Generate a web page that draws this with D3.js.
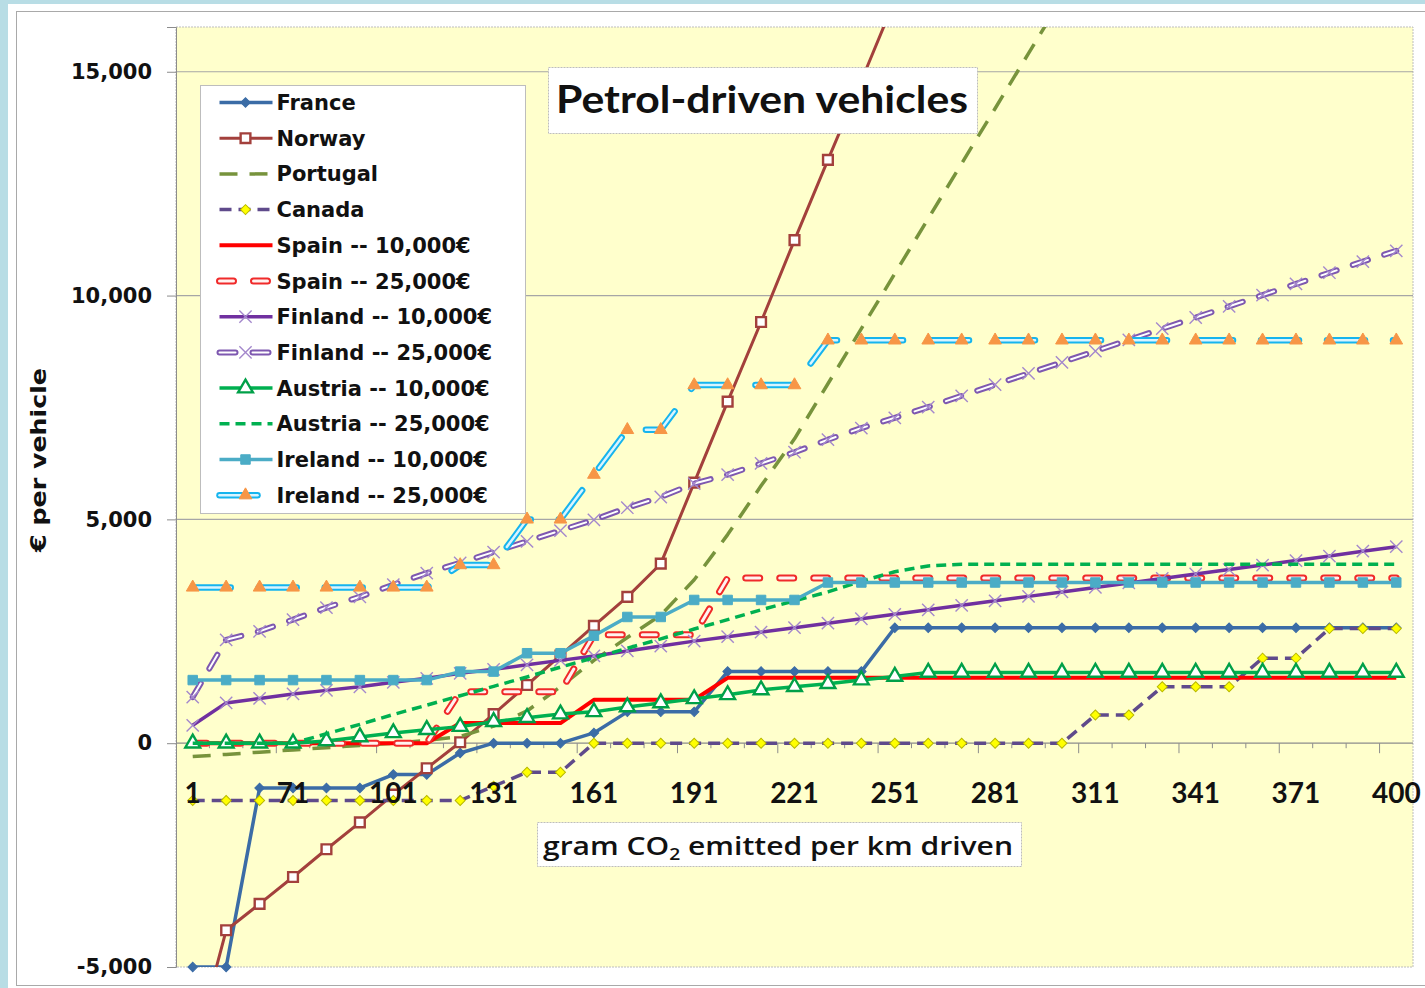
<!DOCTYPE html>
<html>
<head>
<meta charset="utf-8">
<script src="https://cdn.jsdelivr.net/npm/d3@7"></script>
<style>
  body { margin: 0; background: #fff; }
  svg { display: block; }
</style>
</head>
<body>
<div id="chart"></div>
<script>
// gram CO2 per km (categories)
const categories = ["1", "51", "61", "71", "81", "91", "101", "111", "121", "131", "141", "151", "161",
  "171", "181", "191", "201", "211", "221", "231", "241", "251", "261", "271", "281", "291", "301",
  "311", "321", "331", "341", "351", "361", "371", "381", "391", "400"];

// € per vehicle, one value per category
const france = [-5000, -5000, -1000, -1000, -1000, -1000, -700, -700, -220, 0, 0, 0, 230, 700, 700, 700,
  1600, 1600, 1600, 1600, 1600, 2580, 2580, 2580, 2580, 2580, 2580, 2580, 2580, 2580, 2580, 2580, 2580,
  2580, 2580, 2580, 2580];
const norway = [-7000, -4180, -3590, -2990, -2370, -1770, -1150, -560, 20, 650, 1300, 1960, 2620, 3270,
  4010, 5820, 7630, 9410, 11240, 13030, 14800, 16600, null, null, null, null, null, null, null, null,
  null, null, null, null, null, null, null];
const portugal = [-300, -250, -200, -150, -100, -50, 0, 60, 150, 380, 720, 1260, 1850, 2360, 2860, 3650,
  4660, 5750, 6800, 8030, 9260, 10490, 11720, 12950, 14180, 15410, 16640, null, null, null, null, null,
  null, null, null, null, null];
const canada = [-1280, -1280, -1280, -1280, -1280, -1280, -1280, -1280, -1280, -960, -650, -650, 0, 0, 0,
  0, 0, 0, 0, 0, 0, 0, 0, 0, 0, 0, 0, 630, 630, 1260, 1260, 1260, 1900, 1900, 2560, 2560, 2560];
const spain10 = [0, 0, 0, 0, 0, 0, 0, 0, 450, 450, 450, 450, 970, 970, 970, 970, 1460, 1460, 1460, 1460,
  1460, 1460, 1460, 1460, 1460, 1460, 1460, 1460, 1460, 1460, 1460, 1460, 1460, 1460, 1460, 1460, 1460];
const spain25 = [0, 0, 0, 0, 0, 0, 0, 0, 1150, 1150, 1150, 1150, 2420, 2420, 2420, 2420, 3690, 3690, 3690,
  3690, 3690, 3690, 3690, 3690, 3690, 3690, 3690, 3690, 3690, 3690, 3690, 3690, 3690, 3690, 3690, 3690, 3690];
const finland10 = [400, 900, 1000, 1100, 1180, 1260, 1360, 1450, 1560, 1650, 1750, 1850, 1950, 2060, 2170,
  2280, 2380, 2480, 2580, 2680, 2780, 2880, 2980, 3080, 3180, 3280, 3380, 3480, 3580, 3680, 3780, 3880,
  3980, 4080, 4180, 4290, 4390];
const finland25 = [1030, 2310, 2500, 2760, 3030, 3270, 3540, 3800, 4030, 4270, 4510, 4750, 4990, 5260,
  5500, 5800, 6000, 6250, 6500, 6780, 7040, 7270, 7510, 7760, 8010, 8260, 8510, 8760, 9010, 9260, 9510,
  9760, 10010, 10260, 10510, 10760, 11000];
const austria10 = [0, 0, 0, 0, 50, 140, 230, 300, 370, 480, 570, 650, 700, 810, 900, 990, 1080, 1190, 1260,
  1330, 1410, 1490, 1580, 1580, 1580, 1580, 1580, 1580, 1580, 1580, 1580, 1580, 1580, 1580, 1580, 1580, 1580];
const austria25 = [0, 0, 0, 0, 210, 420, 640, 850, 1060, 1270, 1480, 1700, 1910, 2120, 2330, 2550, 2760,
  2980, 3180, 3380, 3620, 3830, 3960, 4000, 4000, 4000, 4000, 4000, 4000, 4000, 4000, 4000, 4000, 4000,
  4000, 4000, 4000];
const ireland10 = [1410, 1410, 1410, 1410, 1410, 1410, 1410, 1410, 1600, 1600, 2010, 2010, 2400, 2820, 2820,
  3200, 3200, 3200, 3200, 3590, 3590, 3590, 3590, 3590, 3590, 3590, 3590, 3590, 3590, 3590, 3590, 3590,
  3590, 3590, 3590, 3590, 3590];
const ireland25 = [3480, 3480, 3480, 3480, 3480, 3480, 3480, 3480, 3980, 3980, 5000, 5000, 6000, 7000, 7000,
  8000, 8000, 8000, 8000, 9000, 9000, 9000, 9000, 9000, 9000, 9000, 9000, 9000, 9000, 9000, 9000, 9000,
  9000, 9000, 9000, 9000, 9000];

const yTicks = [-5000, 0, 5000, 10000, 15000];

// series styling (drawn in this order, legend in the same order)
const series = [
  { name: "France", values: france, color: "#3B6CA6", width: 3.5, marker: "diamond", mSize: 45, mFill: "#3B6CA6", mStroke: "#3B6CA6" },
  { name: "Norway", values: norway, color: "#A3403C", width: 3, marker: "square", mSize: 95, mFill: "#fff", mStroke: "#A3403C", mWidth: 2.4 },
  { name: "Portugal", values: portugal, color: "#77933C", width: 3.5, dash: "18 12" },
  { name: "Canada", values: canada, color: "#5F4A8B", width: 3.5, dash: "12 7", marker: "diamond", mSize: 50, mFill: "#FFFF00", mStroke: "#B8B800", mWidth: 1 },
  { name: "Spain -- 10,000€", values: spain10, color: "#FF0000", width: 4 },
  { name: "Spain -- 25,000€", values: spain25, color: "#F02A2A", width: 7, dash: "14 20", cap: "round", inner: "#FFF2F0" },
  { name: "Finland -- 10,000€", values: finland10, color: "#7030A0", width: 3.5, marker: "times", mSize: 100, mFill: "none", mStroke: "#A488CC", mWidth: 1.4 },
  { name: "Finland -- 25,000€", values: finland25, color: "#7E58B0", width: 6, dash: "16 17", cap: "round", inner: "#FFFFFF", marker: "times", mSize: 100, mFill: "none", mStroke: "#A488CC", mWidth: 1.4 },
  { name: "Austria -- 10,000€", values: austria10, color: "#00B050", width: 3.5, marker: "triangle", mSize: 95, mFill: "#fff", mStroke: "#00A048", mWidth: 2.4 },
  { name: "Austria -- 25,000€", values: austria25, color: "#00B050", width: 3.5, dash: "10 6" },
  { name: "Ireland -- 10,000€", values: ireland10, color: "#4BACC6", width: 3.5, marker: "square", mSize: 90, mFill: "#4BACC6", mStroke: "#4BACC6" },
  { name: "Ireland -- 25,000€", values: ireland25, color: "#16B4EE", width: 6.5, dash: "38 28", cap: "round", inner: "#D8F4FF", marker: "triangle", mSize: 70, mFill: "#F79646", mStroke: "#F79646" }
];

const W = 1425, H = 988;
const plot = { left: 176, right: 1413, top: 27, bottom: 967 };

const svg = d3.select("#chart").append("svg")
  .attr("width", W)
  .attr("height", H);

// window frame and chart area
svg.append("rect").attr("width", W).attr("height", H).attr("fill", "#fff");
svg.append("rect").attr("width", 8).attr("height", H).attr("fill", "#B8DDE5");
svg.append("rect").attr("width", W).attr("height", 4).attr("fill", "#B8DDE5");
svg.append("rect")
  .attr("x", 16.5).attr("y", 11.5)
  .attr("width", W - 16).attr("height", 974)
  .attr("fill", "#fff")
  .attr("stroke", "#A9A9A9");

// plot area
svg.append("rect")
  .attr("x", plot.left).attr("y", plot.top)
  .attr("width", plot.right - plot.left).attr("height", plot.bottom - plot.top)
  .attr("fill", "#FFFFCC")
  .attr("stroke", "#BDBDBD")
  .attr("stroke-dasharray", "2 1");

const x = d3.scaleBand()
  .domain(categories)
  .range([plot.left, plot.right]);
const cx = c => x(c) + x.bandwidth() / 2;

const y = d3.scaleLinear()
  .domain([-5000, 16000])
  .range([plot.bottom, plot.top]);

// horizontal gridlines
svg.append("g")
  .selectAll("line")
  .data(yTicks.filter(d => d > 0))
  .enter().append("line")
  .attr("x1", plot.left).attr("x2", plot.right)
  .attr("y1", d => y(d)).attr("y2", d => y(d))
  .attr("stroke", "#A6A6A6")
  .attr("stroke-width", 1.2);

// y axis
const yAxis = svg.append("g")
  .attr("transform", `translate(${plot.left},0)`)
  .call(d3.axisLeft(y)
    .tickValues(yTicks)
    .tickSize(9)
    .tickPadding(15)
    .tickFormat(d => d3.format(",")(d).replace("\u2212", "-")));
yAxis.select(".domain").attr("stroke", "#8C8C8C");
yAxis.selectAll(".tick line").attr("stroke", "#8C8C8C");
yAxis.selectAll("text")
  .style("font-family", "'DejaVu Sans', Verdana, sans-serif")
  .style("font-weight", "bold")
  .style("font-size", "21px")
  .attr("fill", "#111");

// x axis line at zero
const y0 = y(0);
svg.append("line")
  .attr("x1", plot.left).attr("x2", plot.right)
  .attr("y1", y0).attr("y2", y0)
  .attr("stroke", "#8C8C8C")
  .attr("stroke-width", 1.2);

// tick marks at category boundaries, long ones every third
svg.append("g")
  .selectAll("line")
  .data(categories.slice(0, -1))
  .enter().append("line")
  .attr("x1", d => x(d) + x.bandwidth()).attr("x2", d => x(d) + x.bandwidth())
  .attr("y1", y0)
  .attr("y2", (d, i) => y0 + ((i + 1) % 3 === 0 ? 10 : 5))
  .attr("stroke", "#8C8C8C");

// series
const clipId = "plotclip";
svg.append("clipPath").attr("id", clipId)
  .append("rect")
  .attr("x", plot.left).attr("y", plot.top)
  .attr("width", plot.right - plot.left).attr("height", plot.bottom - plot.top);
svg.append("clipPath").attr("id", "markerclip")
  .append("rect")
  .attr("x", plot.left - 10).attr("y", plot.top - 10)
  .attr("width", plot.right - plot.left + 20).attr("height", plot.bottom - plot.top + 20);

const line = d3.line()
  .defined(d => d.v != null)
  .x(d => cx(d.c))
  .y(d => y(d.v));

// diamonds are drawn as squares turned 45 degrees (even proportions)
const symbolTypes = {
  diamond: d3.symbolSquare,
  square: d3.symbolSquare,
  triangle: d3.symbolTriangle,
  times: d3.symbolTimes || d3.symbolCross
};

function drawStroke(g, s, pathD) {
  g.append("path")
    .attr("d", pathD)
    .attr("fill", "none")
    .attr("stroke", s.color)
    .attr("stroke-width", s.width)
    .attr("stroke-linecap", s.cap || "butt")
    .attr("stroke-linejoin", "round")
    .attr("stroke-dasharray", s.dash || null);
  if (s.inner) {
    g.append("path")
      .attr("d", pathD)
      .attr("fill", "none")
      .attr("stroke", s.inner)
      .attr("stroke-width", s.width - 4)
      .attr("stroke-linecap", s.cap || "butt")
      .attr("stroke-linejoin", "round")
      .attr("stroke-dasharray", s.dash || null);
  }
}

function drawMarker(g, s, px, py) {
  const sym = d3.symbol().type(symbolTypes[s.marker]).size(s.mSize);
  const turn = s.marker === "diamond" || (s.marker === "times" && !d3.symbolTimes);
  return g.append("path")
    .attr("d", sym())
    .attr("transform", `translate(${px},${py})` + (turn ? " rotate(45)" : ""))
    .attr("fill", s.mFill)
    .attr("stroke", s.mStroke)
    .attr("stroke-width", s.mWidth || 1);
}

const linesG = svg.append("g");
series.forEach(s => {
  const pts = categories.map((c, i) => ({ c: c, v: s.values[i] }));
  const g = linesG.append("g");
  drawStroke(g.append("g").attr("clip-path", `url(#${clipId})`), s, line(pts));
  if (s.marker) {
    const mg = g.append("g").attr("clip-path", "url(#markerclip)");
    pts.filter(d => d.v != null && d.v >= -5000 && d.v <= 16000)
      .forEach(d => drawMarker(mg, s, cx(d.c), y(d.v)));
  }
});

// x tick labels, every third category
svg.append("g")
  .selectAll("text")
  .data(categories.filter((d, i) => i % 3 === 0))
  .enter().append("text")
  .attr("x", d => cx(d))
  .attr("y", 803)
  .attr("text-anchor", "middle")
  .style("font-family", "Lato, 'Open Sans', sans-serif")
  .style("font-weight", "bold")
  .style("font-size", "28px")
  .attr("fill", "#111")
  .text(d => d);

// y axis title
svg.append("text")
  .attr("transform", "translate(46,460) rotate(-90)")
  .attr("text-anchor", "middle")
  .attr("textLength", 184)
  .attr("lengthAdjust", "spacingAndGlyphs")
  .style("font-family", "'DejaVu Sans', Verdana, sans-serif")
  .style("font-weight", "bold")
  .style("font-size", "22px")
  .attr("fill", "#111")
  .text("€ per vehicle");

// x axis title box
const xt = svg.append("g");
xt.append("rect")
  .attr("x", 537.5).attr("y", 822.5)
  .attr("width", 484).attr("height", 44)
  .attr("fill", "#fff")
  .attr("stroke", "#BDBDBD")
  .attr("stroke-dasharray", "2 1");
const xtText = xt.append("text")
  .attr("x", 543)
  .attr("y", 855)
  .attr("textLength", 470)
  .attr("lengthAdjust", "spacingAndGlyphs")
  .style("font-family", "'Open Sans', Lato, sans-serif")
  .style("font-weight", "600")
  .style("font-size", "25px")
  .attr("fill", "#111");
xtText.append("tspan").text("gram CO");
xtText.append("tspan").attr("dy", 5).style("font-size", "16px").text("2");
xtText.append("tspan").attr("dy", -5).text(" emitted per km driven");

// chart title box
const tt = svg.append("g");
tt.append("rect")
  .attr("x", 548.5).attr("y", 67.5)
  .attr("width", 429).attr("height", 66)
  .attr("fill", "#fff")
  .attr("stroke", "#BDBDBD")
  .attr("stroke-dasharray", "2 1");
tt.append("text")
  .attr("x", 556)
  .attr("y", 113)
  .attr("textLength", 412)
  .attr("lengthAdjust", "spacingAndGlyphs")
  .style("font-family", "Lato, 'Open Sans', sans-serif")
  .style("font-weight", "bold")
  .style("font-size", "38px")
  .attr("fill", "#111")
  .text("Petrol-driven vehicles");

// legend
const legend = svg.append("g")
  .attr("class", "legend")
  .attr("transform", "translate(200.5,85.5)");
legend.append("rect")
  .attr("width", 325).attr("height", 428)
  .attr("fill", "#fff")
  .attr("stroke", "#BDBDBD");

const legendItem = legend.selectAll(".legend-item")
  .data(series)
  .enter().append("g")
  .attr("class", "legend-item")
  .attr("transform", (d, i) => `translate(0, ${17 + i * 35.7})`);

legendItem.each(function (s) {
  const g = d3.select(this);
  drawStroke(g, s, "M19,0H72");
  if (s.marker) drawMarker(g, s, 45, 0);
});

legendItem.append("text")
  .attr("x", 76)
  .attr("y", 0)
  .attr("dy", "0.36em")
  .style("font-family", "'DejaVu Sans', Verdana, sans-serif")
  .style("font-weight", "bold")
  .style("font-size", "21px")
  .attr("fill", "#111")
  .text(d => d.name);
</script>
</body>
</html>
